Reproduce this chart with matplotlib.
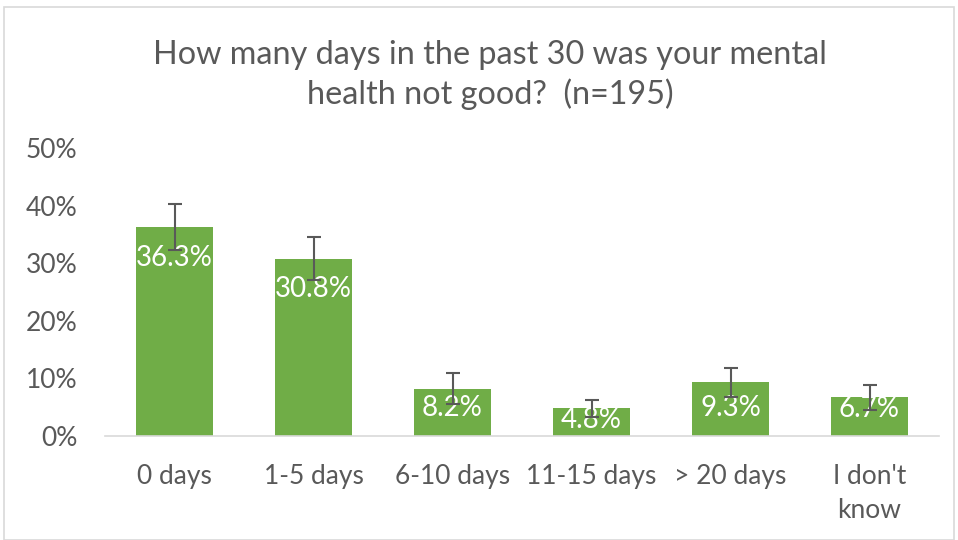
import matplotlib
matplotlib.use("Agg")
import matplotlib.pyplot as plt
from matplotlib.patches import Rectangle

categories = ["0 days", "1-5 days", "6-10 days", "11-15 days", "> 20 days", "I don't\nknow"]
values = [36.3, 30.8, 8.2, 4.8, 9.3, 6.7]
errors = [4.0, 3.7, 2.7, 1.5, 2.5, 2.1]
yticks = [0, 10, 20, 30, 40, 50]
title = "How many days in the past 30 was your mental\nhealth not good?  (n=195)"

plt.rcParams['font.family'] = ['Lato', 'DejaVu Sans']
grey = "#595959"
green = "#70AD47"

fig = plt.figure(figsize=(9.58, 5.4), dpi=100)
ax = fig.add_axes([105/958, 1-436/540, (939-105)/958, (436-148)/540])

x = list(range(len(categories)))
ax.bar(x, values, width=0.555, color=green, zorder=2)
ax.errorbar(x, values, yerr=errors, fmt='none', ecolor=grey, elinewidth=1.5,
            capsize=5, capthick=1.5, zorder=4)

for xi, v in zip(x, values):
    yc = max(v - 5.35, min(4.8, v - 2.0))
    ax.text(xi, yc, f"{v:.1f}%", ha='center', va='center', color='white',
            fontsize=20, zorder=3)

ax.set_xlim(-0.5, len(categories) - 0.5)
ax.set_ylim(0, 50)
ax.set_yticks(yticks)
ax.set_yticklabels([f"{t}%" for t in yticks])
ax.set_xticks(x)
ax.set_xticklabels(categories, linespacing=1.45)
ax.tick_params(axis='both', length=0, colors=grey, labelsize=19)
ax.tick_params(axis='y', pad=20)
ax.tick_params(axis='x', pad=20)
for s in ['top', 'right', 'left']:
    ax.spines[s].set_visible(False)
ax.spines['bottom'].set_color('#D9D9D9')
ax.spines['bottom'].set_linewidth(1.2)

fig.text(490/958, 1-75/540, title, ha='center', va='center', color=grey,
         fontsize=23.3, linespacing=1.3)

fig.patches.append(Rectangle((4/958, 0), 1-8/958, 1-7/540, transform=fig.transFigure,
                             fill=False, edgecolor='#D9D9D9', linewidth=1.2))

fig.savefig("out.png", dpi=100)
